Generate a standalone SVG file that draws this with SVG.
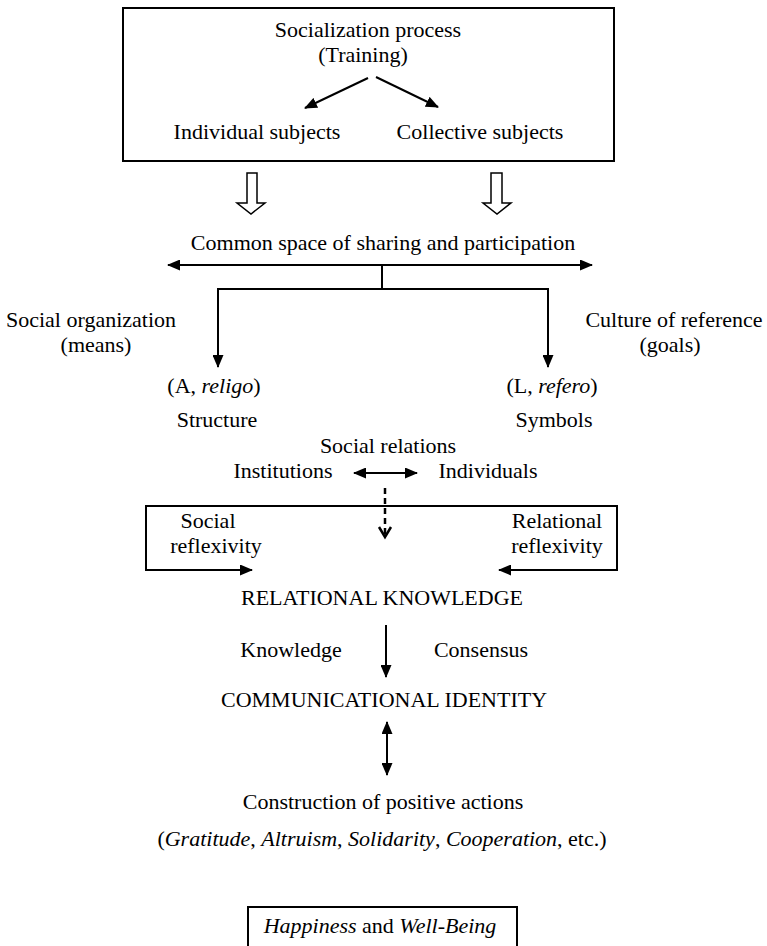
<svg xmlns="http://www.w3.org/2000/svg" width="767" height="946" viewBox="0 0 767 946">
<style>
text{font-family:"Liberation Serif",Tinos,"Times New Roman",Times,"DejaVu Serif",serif;font-size:22px;fill:#000;text-anchor:middle}
.i{font-style:italic}
.box{fill:none;stroke:#000;stroke-width:2}
.ln{fill:none;stroke:#000;stroke-width:2}
.hollow{fill:#fff;stroke:#000;stroke-width:1.5}
</style>
<defs>
<marker id="ah" viewBox="0 0 13 11" refX="12" refY="5.5" markerWidth="13" markerHeight="11" markerUnits="userSpaceOnUse" orient="auto-start-reverse">
<path d="M0,0 L13,5.5 L0,11 z" fill="#000"/>
</marker>
</defs>
<rect width="767" height="946" fill="#fff"/>

<g id="socialization">
<rect class="box" x="123" y="8" width="491" height="153"/>
<text x="368" y="37" font-family="Liberation Serif, serif">Socialization process</text>
<text x="363" y="62">(Training)</text>
<text x="257" y="139">Individual subjects</text>
<text x="480" y="139">Collective subjects</text>
</g>

<g id="common-space">
<text x="383" y="250">Common space of sharing and participation</text>
</g>

<g id="social-organization">
<text x="91" y="327">Social organization</text>
<text x="96" y="352">(means)</text>
</g>
<g id="culture-reference">
<text x="674" y="327">Culture of reference</text>
<text x="670" y="352">(goals)</text>
</g>
<g id="structure">
<text x="214" y="393">(A, <tspan class="i">religo</tspan>)</text>
<text x="217" y="427">Structure</text>
</g>
<g id="symbols">
<text x="552" y="393">(L, <tspan class="i">refero</tspan>)</text>
<text x="554" y="427">Symbols</text>
</g>
<g id="social-relations">
<text x="388" y="453">Social relations</text>
<text x="283" y="478">Institutions</text>
<text x="488" y="478">Individuals</text>
</g>
<g id="reflexivity">
<text x="208" y="528">Social</text>
<text x="216" y="553">reflexivity</text>
<text x="557" y="528">Relational</text>
<text x="557" y="553">reflexivity</text>
</g>
<g id="relational-knowledge">
<text x="382" y="605">RELATIONAL KNOWLEDGE</text>
<text x="291" y="657">Knowledge</text>
<text x="481" y="657">Consensus</text>
</g>
<g id="communicational-identity">
<text x="384" y="707">COMMUNICATIONAL IDENTITY</text>
</g>
<g id="positive-actions">
<text x="383" y="809">Construction of positive actions</text>
<text x="382" y="846">(<tspan class="i">Gratitude</tspan>, <tspan class="i">Altruism</tspan>, <tspan class="i">Solidarity</tspan>, <tspan class="i">Cooperation</tspan>, etc.)</text>
</g>
<g id="happiness">
<rect class="box" x="248" y="907" width="269" height="60"/>
<text x="380" y="933"><tspan class="i">Happiness</tspan> and <tspan class="i">Well-Being</tspan></text>
</g>

<g id="connectors">
<line class="ln" x1="368" y1="78" x2="305" y2="108" marker-end="url(#ah)"/>
<line class="ln" x1="376" y1="77" x2="438" y2="107" marker-end="url(#ah)"/>
<polygon class="hollow" points="247,173 257,173 257,203 265,203 251,214 237,203 247,203"/>
<polygon class="hollow" points="491,173 502,173 502,203 511,203 497,214 483,203 491,203"/>
<line class="ln" x1="168" y1="265" x2="592" y2="265" marker-start="url(#ah)" marker-end="url(#ah)"/>
<line class="ln" x1="382" y1="265" x2="382" y2="289"/>
<polyline class="ln" points="218,367 218,289 548,289 548,367" marker-start="url(#ah)" marker-end="url(#ah)"/>
<line class="ln" x1="354" y1="473" x2="417" y2="473" marker-start="url(#ah)" marker-end="url(#ah)"/>
<line x1="385" y1="488" x2="385" y2="535" stroke="#000" stroke-width="2.5" stroke-dasharray="6,4"/>
<polyline points="379,527 385,537 391,527" fill="none" stroke="#000" stroke-width="2.5"/>
<polyline class="ln" points="251,570 146,570 146,506 617,506 617,570 500,570"/>
<line class="ln" x1="230" y1="570" x2="252" y2="570" marker-end="url(#ah)"/>
<line class="ln" x1="520" y1="570" x2="499" y2="570" marker-end="url(#ah)"/>
<line class="ln" x1="386" y1="625" x2="386" y2="677" marker-end="url(#ah)"/>
<line class="ln" x1="387" y1="722" x2="387" y2="775" marker-start="url(#ah)" marker-end="url(#ah)"/>
</g>
</svg>
